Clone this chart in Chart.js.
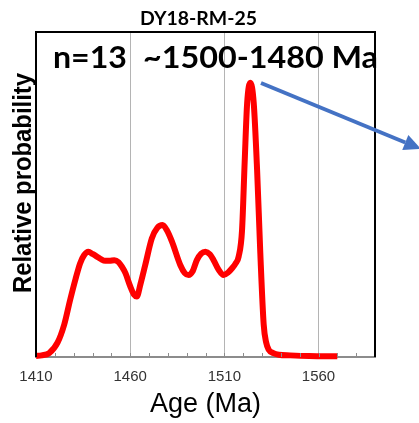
<!DOCTYPE html>
<html lang="en">
<head>
    <meta charset="UTF-8">
    <title>DY18-RM-25</title>
    <script src="https://cdn.jsdelivr.net/npm/chart.js"></script>
    <style>
        body { margin: 0; background: #fff; }
        canvas { display: block; }
    </style>
</head>
<body>
<canvas id="ageChart" width="419" height="423"></canvas>
<script>
// probability density curve
const ages = [1410, 1413, 1417, 1421.5, 1425, 1428.1, 1431, 1433.4, 1435.5, 1437.8, 1440, 1442.3, 1444.5, 1446.7,
    1449, 1451.6, 1453.8, 1455.6, 1457.5, 1460, 1462, 1463.5, 1465.5, 1468, 1471.5, 1474.5, 1477.2, 1479.5,
    1482.2, 1486.6, 1489, 1491, 1493, 1495.4, 1497.7, 1500, 1502.3, 1504.3, 1507, 1509.6, 1512, 1514.1, 1516,
    1517.6, 1519.4, 1520.8, 1522.1, 1523.8, 1525.6, 1527.4, 1529.1, 1530.9, 1532.2, 1533.6, 1536, 1538.9,
    1545, 1555, 1570];
const probs = [0.003, 0.005, 0.012, 0.045, 0.1, 0.175, 0.24, 0.288, 0.313, 0.324, 0.317, 0.309, 0.301, 0.296,
    0.296, 0.298, 0.292, 0.278, 0.258, 0.218, 0.192, 0.186, 0.225, 0.283, 0.365, 0.398, 0.406, 0.39,
    0.355, 0.283, 0.258, 0.252, 0.262, 0.298, 0.318, 0.324, 0.316, 0.298, 0.268, 0.252, 0.26, 0.273, 0.288,
    0.309, 0.39, 0.6, 0.78, 0.844, 0.782, 0.575, 0.32, 0.1, 0.045, 0.022, 0.012, 0.007,
    0.005, 0.003, 0.002];
const labelTicks = [1410, 1460, 1510, 1560];
const gridTicks = [1460, 1510, 1560];

const sampleName = "DY18-RM-25";
const countText = "n=13";
const rangeText = "~1500-1480 Ma";

// draw text squeezed/stretched to a given width
function fitText(ctx, text, x, y, width, font) {
    ctx.save();
    ctx.font = font;
    const w = ctx.measureText(text).width;
    ctx.translate(x, y);
    ctx.scale(width / w, 1);
    ctx.fillText(text, 0, 0);
    ctx.restore();
}

const extras = {
    id: 'extras',
    afterDraw(chart) {
        const ctx = chart.ctx;
        const a = chart.chartArea;
        const xs = chart.scales.x;

        // minor ticks, pointing up
        ctx.save();
        ctx.strokeStyle = '#8c8c8c';
        ctx.lineWidth = 1;
        for (let v = 1420; v < 1590; v += 10) {
            const px = Math.round(xs.getPixelForValue(v)) + 0.5;
            ctx.beginPath();
            ctx.moveTo(px, a.bottom);
            ctx.lineTo(px, a.bottom - 4);
            ctx.stroke();
        }

        // frame
        ctx.strokeStyle = '#000';
        ctx.lineWidth = 2;
        ctx.beginPath();
        ctx.moveTo(a.left, a.bottom);
        ctx.lineTo(a.left, a.top);
        ctx.lineTo(a.right, a.top);
        ctx.lineTo(a.right, a.bottom);
        ctx.stroke();
        ctx.restore();

        // texts
        ctx.save();
        ctx.fillStyle = '#000';
        ctx.textBaseline = 'alphabetic';
        ctx.textAlign = 'left';
        fitText(ctx, sampleName, 140, 25, 117, 'bold 18px Lato');
        fitText(ctx, countText, 53, 68, 74, 'bold 31px Lato');
        fitText(ctx, rangeText, 143, 68, 235, 'bold 31px Lato');

        // y title
        ctx.save();
        ctx.translate(31, 293);
        ctx.rotate(-Math.PI / 2);
        fitText(ctx, 'Relative probability', 0, 0, 220, 'bold 25px "Liberation Sans"');
        ctx.restore();
        ctx.restore();

        // blue arrow
        const x1 = 261, y1 = 83, x2 = 421, y2 = 149;
        const ang = Math.atan2(y2 - y1, x2 - x1);
        const head = 17;
        ctx.save();
        ctx.strokeStyle = '#4472c4';
        ctx.fillStyle = '#4472c4';
        ctx.lineWidth = 4;
        ctx.beginPath();
        ctx.moveTo(x1, y1);
        ctx.lineTo(x2 - head * Math.cos(ang), y2 - head * Math.sin(ang));
        ctx.stroke();
        ctx.beginPath();
        ctx.moveTo(x2, y2);
        ctx.lineTo(x2 - head * Math.cos(ang) + 8 * Math.sin(ang), y2 - head * Math.sin(ang) - 8 * Math.cos(ang));
        ctx.lineTo(x2 - head * Math.cos(ang) - 8 * Math.sin(ang), y2 - head * Math.sin(ang) + 8 * Math.cos(ang));
        ctx.closePath();
        ctx.fill();
        ctx.restore();
    }
};

new Chart(document.getElementById('ageChart'), {
    type: 'line',
    data: {
        datasets: [{
            data: ages.map((a, i) => ({ x: a, y: probs[i] })),
            borderColor: '#ff0000',
            borderWidth: 6,
            pointRadius: 0,
            fill: false,
            cubicInterpolationMode: 'monotone',
            clip: false
        }]
    },
    options: {
        responsive: false,
        devicePixelRatio: 1,
        animation: false,
        layout: { padding: { left: 36, top: 32, right: 44, bottom: 0 } },
        plugins: { legend: { display: false }, tooltip: { enabled: false } },
        scales: {
            x: {
                type: 'linear',
                min: 1410,
                max: 1590,
                afterFit(scale) { scale.height = 66; },
                ticks: {
                    stepSize: 10,
                    autoSkip: false,
                    maxRotation: 0,
                    padding: 11,
                    color: '#333',
                    font: { family: '"Liberation Sans"', size: 15 },
                    callback: v => labelTicks.includes(v) ? String(v) : ''
                },
                grid: {
                    drawTicks: false,
                    lineWidth: 1,
                    color: c => gridTicks.includes(c.tick && c.tick.value) ? '#b4b4b4' : 'transparent'
                },
                border: { color: '#8c8c8c', width: 2 },
                title: {
                    display: true,
                    text: 'Age (Ma)',
                    color: '#000',
                    font: { family: '"Liberation Sans"', size: 27 },
                    padding: { top: 0, bottom: 2 }
                }
            },
            y: {
                display: false,
                min: 0,
                max: 1
            }
        }
    },
    plugins: [extras]
});
</script>
</body>
</html>
